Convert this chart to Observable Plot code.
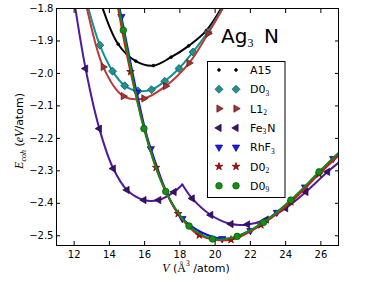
<!DOCTYPE html>
<html>
<head>
<meta charset="utf-8">
<script src="https://cdn.jsdelivr.net/npm/d3@7"></script>
<script src="https://cdn.jsdelivr.net/npm/@observablehq/plot@0.6"></script>
<style>
  html, body { margin: 0; padding: 0; background: white; }
  #chart { width: 374px; height: 282px; }
</style>
</head>
<body>
<div id="chart"></div>
<script>
// ---- data ----
const xTicks = [12, 14, 16, 18, 20, 22, 24, 26];
const yTicks = [-1.8, -1.9, -2.0, -2.1, -2.2, -2.3, -2.4, -2.5];

const a15V = [13.5, 14.5, 15.5, 16.5, 17.5, 18.5, 19.5, 20.5];
const a15E = [-1.78, -1.910, -1.962, -1.976, -1.950, -1.915, -1.868, -1.785];

const d03V = [12.71, 13.46, 14.18, 14.87, 15.62, 16.39, 17.14, 17.95, 18.74, 19.6, 20.55];
const d03E = [-1.78, -1.913, -1.993, -2.038, -2.054, -2.050, -2.024, -1.985, -1.934, -1.872, -1.787];

const l12V = [12.5, 13.65, 14.79, 15.96, 17.19, 18.52, 19.6, 20.8];
const l12E = [-1.74, -1.980, -2.070, -2.077, -2.039, -1.968, -1.877, -1.765];

const fe3nV = [12.0, 12.65, 13.43, 14.22, 15.0, 15.96, 16.8, 17.67, 18.7, 19.75, 20.9, 21.84, 22.9, 24.0, 25.15, 26.38, 27.3];
const fe3nE = [-1.775, -1.985, -2.170, -2.293, -2.359, -2.390, -2.390, -2.365, -2.385, -2.436, -2.464, -2.465, -2.450, -2.415, -2.365, -2.303, -2.262];
const fe3nPeakV = 18.14;
const fe3nPeakE = -2.342;

const rhf3V = [13.6, 14.68, 15.55, 16.35, 18.14, 20.4, 22.0, 23.5, 25.1, 26.7, 27.6];
const rhf3E = [-1.55, -1.825, -2.058, -2.232, -2.447, -2.509, -2.484, -2.428, -2.350, -2.262, -2.215];

const d02V = [13.9, 15.2, 16.65, 17.9, 19.1, 20.9, 22.6, 24.3, 25.9, 27.5];
const d02E = [-1.61, -1.995, -2.290, -2.432, -2.498, -2.512, -2.467, -2.396, -2.310, -2.228];

const d09V = [13.7, 14.79, 15.96, 17.2, 18.52, 19.85, 21.25, 22.74, 24.3, 25.9, 27.5];
const d09E = [-1.56, -1.867, -2.170, -2.364, -2.470, -2.510, -2.502, -2.459, -2.390, -2.303, -2.218];

const legendNames = ["A15", "D0_3", "L1_2", "Fe_3N", "RhF_3", "D0_2", "D0_9"];

// ---- helpers ----
const rows = (V, E) => V.map((v, i) => ({V: v, E: E[i]}));
const fe3nRows = rows(fe3nV, fe3nE);
const fe3nLeft = fe3nRows.filter(d => d.V < fe3nPeakV).concat([{V: fe3nPeakV, E: fe3nPeakE}]);
const fe3nRight = [{V: fe3nPeakV, E: fe3nPeakE}].concat(fe3nRows.filter(d => d.V > fe3nPeakV));

const styles = {
  A15:   {line: "#000000", fill: "#000000", stroke: "#000000", symbol: "circle", r: 1.4, rotate: 0},
  D0_3:  {line: "#119393", fill: "#1c9292", stroke: "#0b4d4d", symbol: "diamond2", r: 3.6, rotate: 0},
  L1_2:  {line: "#bb3a36", fill: "#a83232", stroke: "#5a1515", symbol: "triangle", r: 2.7, rotate: 90},
  Fe_3N: {line: "#4f1a9e", fill: "#3a1072", stroke: "#22063f", symbol: "triangle", r: 2.7, rotate: -90},
  RhF_3: {line: "#1010ee", fill: "#1a1aff", stroke: "#00008a", symbol: "triangle", r: 2.7, rotate: 180},
  D0_2:  {line: "#e01414", fill: "#c40000", stroke: "#600000", symbol: "star", r: 2.4, rotate: 0},
  D0_9:  {line: "#148a14", fill: "#119011", stroke: "#0a4f0a", symbol: "circle", r: 3.3, rotate: 0}
};

function lineMark(data, key) {
  return Plot.line(data, {x: "V", y: "E", stroke: styles[key].line, strokeWidth: 2, curve: "catmull-rom", clip: true});
}
function dotMark(data, key) {
  const s = styles[key];
  return Plot.dot(data, {x: "V", y: "E", symbol: s.symbol, r: s.r, rotate: s.rotate, fill: s.fill, stroke: s.stroke, strokeWidth: 0.7, clip: true});
}

const chart = Plot.plot({
  width: 374,
  height: 282,
  marginLeft: 56,
  marginRight: 36,
  marginTop: 8,
  marginBottom: 37,
  x: {domain: [11, 27]},
  y: {domain: [-2.53, -1.8]},
  style: {fontFamily: "DejaVu Sans", fontSize: "10px", color: "black", background: "white", overflow: "visible"},
  marks: [
    lineMark(rows(a15V, a15E), "A15"), dotMark(rows(a15V, a15E), "A15"),
    lineMark(rows(d03V, d03E), "D0_3"), dotMark(rows(d03V, d03E), "D0_3"),
    lineMark(rows(l12V, l12E), "L1_2"), dotMark(rows(l12V, l12E), "L1_2"),
    lineMark(fe3nLeft, "Fe_3N"), lineMark(fe3nRight, "Fe_3N"), dotMark(fe3nRows, "Fe_3N"),
    lineMark(rows(rhf3V, rhf3E), "RhF_3"), dotMark(rows(rhf3V, rhf3E), "RhF_3"),
    lineMark(rows(d02V, d02E), "D0_2"), dotMark(rows(d02V, d02E), "D0_2"),
    lineMark(rows(d09V, d09E), "D0_9"), dotMark(rows(d09V, d09E), "D0_9"),
    Plot.frame({stroke: "black", strokeWidth: 1}),
    Plot.axisX(xTicks, {anchor: "bottom", tickSize: -4, fill: "none", label: null}),
    Plot.axisX(xTicks, {anchor: "top", tickSize: -4, fill: "none", label: null}),
    Plot.axisY(yTicks, {anchor: "left", tickSize: -4, fill: "none", label: null}),
    Plot.axisY(yTicks, {anchor: "right", tickSize: -4, fill: "none", label: null}),
    Plot.axisX(xTicks, {anchor: "bottom", tickSize: 0, tickPadding: 5, label: null, tickFormat: d3.format("d")}),
    Plot.axisY(yTicks, {anchor: "left", tickSize: 0, tickPadding: 3, label: null, tickFormat: d3.format(".1f")})
  ]
});
document.getElementById("chart").appendChild(chart);

// ---- annotations: title, legend, axis labels ----
const svg = d3.select(chart);
const serif = "Liberation Serif, DejaVu Serif, serif";

// title Ag3N
const title = svg.append("text").attr("x", 221).attr("y", 43).attr("text-anchor", "start")
  .attr("font-family", "DejaVu Sans").attr("font-size", 20).attr("fill", "black");
title.append("tspan").text("Ag");
title.append("tspan").attr("font-family", serif).attr("font-size", 12).attr("dy", 4).text("3");
title.append("tspan").attr("x", 264).attr("dy", -4).text("N");

// legend
const lg = svg.append("g");
lg.append("rect").attr("x", 207.5).attr("y", 61.5).attr("width", 77.5).attr("height", 136)
  .attr("fill", "white").attr("stroke", "black").attr("stroke-width", 1);
const symMap = {circle: d3.symbolCircle, diamond2: d3.symbolDiamond2, triangle: d3.symbolTriangle, star: d3.symbolStar};
legendNames.forEach((name, i) => {
  const s = styles[name];
  const y = 70 + i * 19.3;
  [219, 236].forEach(x => {
    lg.append("path")
      .attr("d", d3.symbol(symMap[s.symbol], Math.PI * s.r * s.r)())
      .attr("transform", `translate(${x},${y}) rotate(${s.rotate})`)
      .attr("fill", s.fill).attr("stroke", s.stroke).attr("stroke-width", 0.7);
  });
  const t = lg.append("text").attr("x", 250).attr("y", y + 4).attr("text-anchor", "start")
    .attr("font-family", "DejaVu Sans").attr("font-size", 11).attr("fill", "black");
  const parts = name.split("_");
  t.append("tspan").text(parts[0]);
  if (parts.length > 1) {
    const sub = parts[1];
    const digit = sub.match(/^\d+/)[0];
    t.append("tspan").attr("font-family", serif).attr("font-size", 7.5).attr("dy", 2.5).text(digit);
    const rest = sub.slice(digit.length);
    if (rest) t.append("tspan").attr("dy", -2.5).attr("dx", 1).text(rest);
  }
});

// y label
const yl = svg.append("text").attr("transform", "translate(23,131) rotate(-90)").attr("text-anchor", "middle")
  .attr("font-family", "DejaVu Sans").attr("font-size", 11).attr("fill", "black");
yl.append("tspan").attr("font-family", serif).attr("font-style", "italic").attr("font-size", 12).text("E");
yl.append("tspan").attr("font-family", serif).attr("font-style", "italic").attr("font-size", 8).attr("dy", 2.5).text("coh");
yl.append("tspan").attr("dy", -2.5).text(" (");
yl.append("tspan").attr("font-family", serif).attr("font-style", "italic").attr("font-size", 12).text("eV");
yl.append("tspan").text("/atom)");

// x label
const xl = svg.append("text").attr("x", 196).attr("y", 272).attr("text-anchor", "middle")
  .attr("font-family", "DejaVu Sans").attr("font-size", 11).attr("fill", "black");
xl.append("tspan").attr("font-family", serif).attr("font-style", "italic").attr("font-size", 12).text("V");
xl.append("tspan").text(" (");
xl.append("tspan").attr("font-family", serif).attr("font-size", 12).text("Å");
xl.append("tspan").attr("font-family", serif).attr("font-size", 7.5).attr("dy", -6).text("3");
xl.append("tspan").attr("dy", 6).text(" /atom)");
</script>
</body>
</html>
